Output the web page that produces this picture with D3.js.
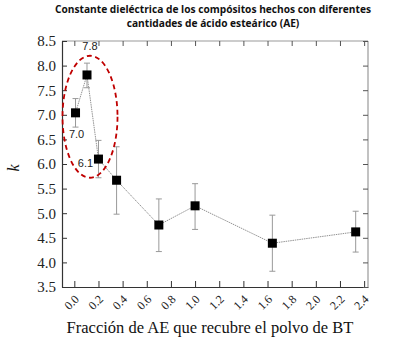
<!DOCTYPE html>
<html><head><meta charset="utf-8">
<script src="https://cdn.jsdelivr.net/npm/d3@7"></script>
<style>body{margin:0;background:#fff}svg{display:block}
.serif text{font-family:'Liberation Serif','Times New Roman',serif}
</style>
</head><body>
<svg id="c" width="400" height="341"></svg>
<script>
const xValues = [0.01, 0.105, 0.2, 0.35, 0.70, 1.0, 1.64, 2.33];
const kValues = [7.04, 7.81, 6.10, 5.67, 4.76, 5.15, 4.39, 4.62];
const errHigh = [7.33, 8.05, 6.48, 6.35, 5.29, 5.60, 4.96, 5.04];
const errLow  = [6.75, 7.55, 5.72, 4.98, 4.22, 4.67, 3.82, 4.21];
const xTicks = [0.0,0.2,0.4,0.6,0.8,1.0,1.2,1.4,1.6,1.8,2.0,2.2,2.4];
const yTicks = [3.5,4.0,4.5,5.0,5.5,6.0,6.5,7.0,7.5,8.0,8.5];
const annotations = [{t:"7.8", i:1}, {t:"7.0", i:0}, {t:"6.1", i:2}];
const titleLines = ["Constante dieléctrica de los compósitos hechos con diferentes","cantidades de ácido esteárico (AE)"];
const xLabel = "Fracción de AE que recubre el polvo de BT";
const yLabel = "k";

const svg = d3.select("#c");
const L=62, R=368, T=41, B=287;
const x = d3.scaleLinear().domain([-0.102, 2.432]).range([L, R]);
const y = d3.scaleLinear().domain([3.5, 8.5]).range([B, T]);
const serif = "'Liberation Serif','Times New Roman',serif";

// title
svg.append("g").selectAll("text").data(titleLines).join("text")
  .attr("x", 213).attr("y", (d,i)=>13+i*14).attr("text-anchor","middle")
  .style("font-family","'Open Sans',sans-serif").attr("font-weight","bold")
  .attr("font-size", 10.2).attr("fill","#111").text(d=>d);

// frame top/right gray
svg.append("line").attr("x1",L).attr("x2",R).attr("y1",T).attr("y2",T).attr("stroke","#999").attr("stroke-width",1.2);
svg.append("line").attr("x1",R).attr("x2",R).attr("y1",T).attr("y2",B).attr("stroke","#999").attr("stroke-width",1.2);

// axes
const gx = svg.append("g").attr("class","serif").attr("transform",`translate(0,${B})`)
  .call(d3.axisBottom(x).tickValues(xTicks).tickSize(-6).tickSizeOuter(0).tickFormat(d3.format(".1f")));
gx.attr("font-family", null);
gx.select(".domain").attr("stroke","#333").attr("stroke-width",1.2);
gx.selectAll(".tick line").attr("stroke","#333");
gx.selectAll(".tick text").style("font-family",serif).style("font-size","12px").attr("fill","#222")
  .attr("text-anchor","end").attr("y",0).attr("x",0).attr("dy","0.35em")
  .attr("transform","translate(2,10) rotate(-45)");

const gxt = svg.append("g").attr("transform",`translate(0,${T})`)
  .call(d3.axisTop(x).tickValues(xTicks).tickSize(-5).tickSizeOuter(0).tickFormat(""));
gxt.select(".domain").remove();
gxt.selectAll(".tick line").attr("stroke","#555");

const gy = svg.append("g").attr("class","serif").attr("transform",`translate(${L},0)`)
  .call(d3.axisLeft(y).tickValues(yTicks).tickSize(-5).tickSizeOuter(0).tickPadding(6).tickFormat(d3.format(".1f")));
gy.attr("font-family", null);
gy.select(".domain").attr("stroke","#333").attr("stroke-width",1.2);
gy.selectAll(".tick line").attr("stroke","#333");
gy.selectAll(".tick text").style("font-family",serif).style("font-size","15px").attr("fill","#222");

const gyr = svg.append("g").attr("transform",`translate(${R},0)`)
  .call(d3.axisRight(y).tickValues(yTicks).tickSize(-5).tickSizeOuter(0).tickFormat(""));
gyr.select(".domain").remove();
gyr.selectAll(".tick line").attr("stroke","#555");

// axis labels
svg.append("text").attr("x",210).attr("y",333).attr("text-anchor","middle")
  .style("font-family",serif).attr("font-size",16.5).attr("fill","#111").text(xLabel);
svg.append("text").attr("transform","translate(19,168) rotate(-90)").attr("text-anchor","middle")
  .style("font-family",serif).attr("font-style","italic").attr("font-size",16).attr("fill","#111").text(yLabel);

// data
const data = xValues.map((v,i)=>({x:v,k:kValues[i],hi:errHigh[i],lo:errLow[i]}));

// line
svg.append("path").datum(data)
  .attr("d", d3.line().x(d=>x(d.x)).y(d=>y(d.k)))
  .attr("fill","none").attr("stroke","#777").attr("stroke-width",0.8).attr("stroke-dasharray","1.5,0.8");

// error bars
const eb = svg.append("g").attr("stroke","#999").attr("stroke-width",1);
eb.selectAll(".v").data(data).join("line").attr("x1",d=>x(d.x)).attr("x2",d=>x(d.x)).attr("y1",d=>y(d.hi)).attr("y2",d=>y(d.lo));
eb.selectAll(".t").data(data).join("line").attr("x1",d=>x(d.x)-3).attr("x2",d=>x(d.x)+3).attr("y1",d=>y(d.hi)).attr("y2",d=>y(d.hi));
eb.selectAll(".b").data(data).join("line").attr("x1",d=>x(d.x)-3).attr("x2",d=>x(d.x)+3).attr("y1",d=>y(d.lo)).attr("y2",d=>y(d.lo));

// markers
svg.append("g").selectAll("rect").data(data).join("rect")
  .attr("x",d=>x(d.x)-4.5).attr("y",d=>y(d.k)-4.5).attr("width",9).attr("height",9).attr("fill","#000");

// ellipse around first three points
svg.append("ellipse").attr("cx", x(0.13)).attr("cy", y(6.96))
  .attr("rx", 27.5).attr("ry", 61).attr("fill","none").attr("stroke","#c00000")
  .attr("stroke-width",1.8).attr("stroke-dasharray","5,3.5");

// annotations
const annOff = {"7.8":[3,-29], "7.0":[1,21], "6.1":[-13,4]};
svg.append("g").selectAll("text").data(annotations).join("text")
  .attr("x", d=>x(xValues[d.i]) + annOff[d.t][0])
  .attr("y", d=>y(kValues[d.i]) + annOff[d.t][1] + 4)
  .attr("text-anchor","middle").style("font-family","'Liberation Sans',Arial,sans-serif")
  .attr("font-size",11).attr("fill","#222").text(d=>d.t);
</script>
</body></html>
